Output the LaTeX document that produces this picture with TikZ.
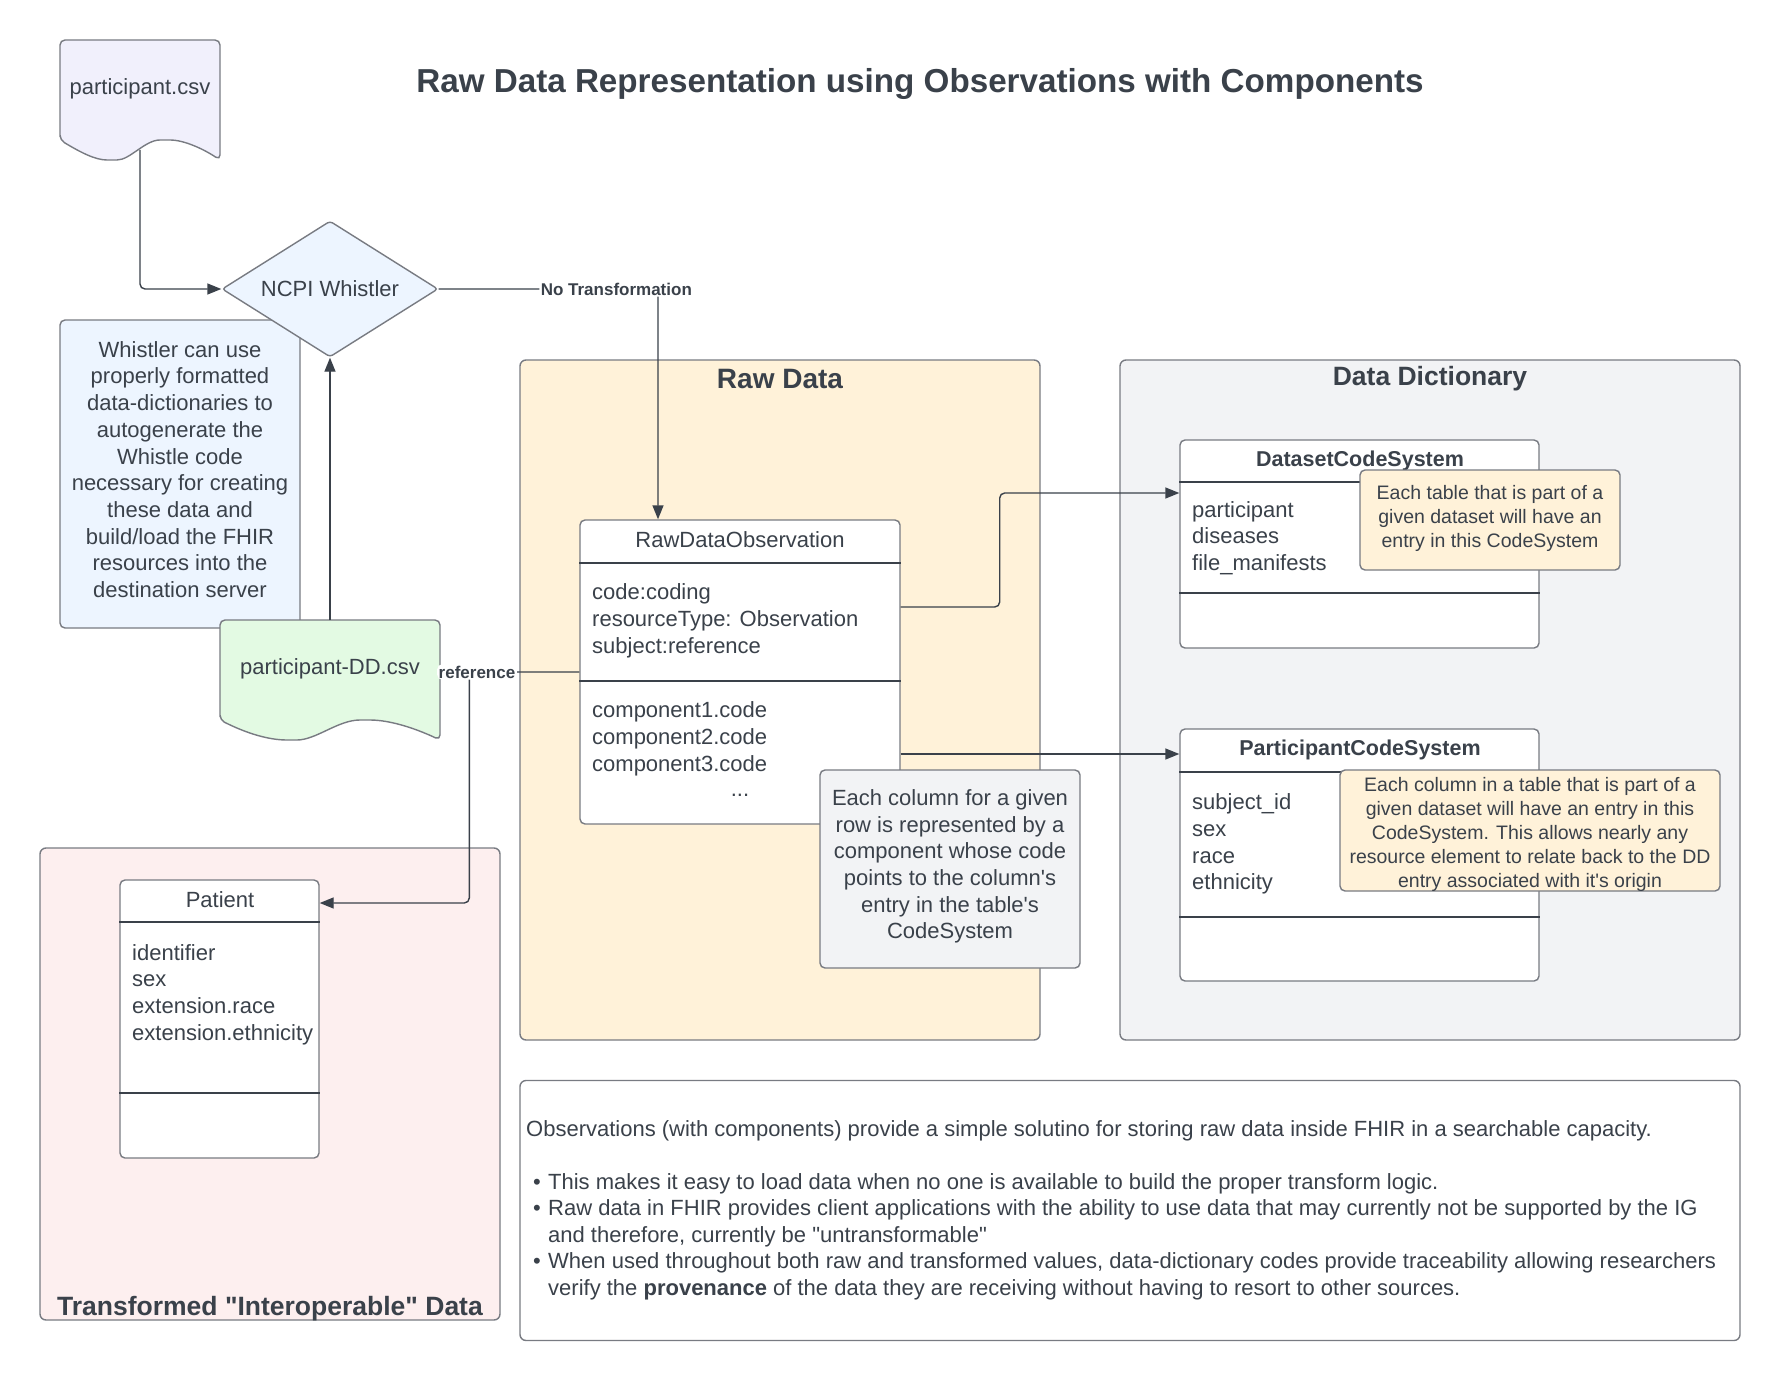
\documentclass[tikz,border=0pt]{standalone}
\usepackage{fontspec}
\setmainfont{Liberation Sans}
\newfontfamily\plainsans{Liberation Sans}
\usetikzlibrary{shapes.geometric,arrows.meta}
\definecolor{ink}{HTML}{3A414A}
\definecolor{edge}{HTML}{787B82}
\definecolor{lavender}{HTML}{F1F0FC}
\definecolor{paleblue}{HTML}{EDF5FF}
\definecolor{palegreen}{HTML}{E3FAE3}
\definecolor{paleyellow}{HTML}{FFF2D9}
\definecolor{palegray}{HTML}{F2F3F5}
\definecolor{palered}{HTML}{FDEFEF}

\begin{document}
\begin{tikzpicture}[x=1pt,y=-1pt,
  every node/.style={text=ink, inner sep=0pt},
  fnt/.style={font=\plainsans\fontsize{22}{26.7}\selectfont},
  boldfnt/.style={font=\plainsans\fontsize{21.5}{26}\selectfont\bfseries},
  notefnt/.style={font=\plainsans\fontsize{19.5}{24}\selectfont},
  sumfnt/.style={font=\plainsans\fontsize{22}{26.5}\selectfont},
  headfnt/.style={font=\plainsans\fontsize{26.5}{30}\selectfont\bfseries},
  box/.style={draw=edge, line width=1.4pt, rounded corners=5pt},
  frame/.style={draw=edge, line width=1.4pt, rounded corners=6pt},
  rule/.style={draw=ink, line width=1.4pt},
  conn/.style={draw=ink, line width=1.4pt, rounded corners=5pt, -{Triangle[length=14pt,width=11pt]}},
  lbl/.style={font=\plainsans\fontsize{17}{20}\selectfont\bfseries, fill=white, inner sep=1.5pt},
]
\path[use as bounding box, fill=white] (0,0) rectangle (1780,1380);

\node[font=\plainsans\fontsize{33.2}{38}\selectfont\bfseries] (title) at (920,84) {Raw Data Representation using Observations with Components};

\node[frame, fill=paleyellow, minimum width=520pt, minimum height=680pt] (rawframe) at (780,700) {};
\node[frame, fill=palegray, minimum width=620pt, minimum height=680pt] (ddframe) at (1430,700) {};
\node[frame, fill=palered, minimum width=460pt, minimum height=472pt] (tfframe) at (270,1084) {};
\node[frame, fill=white, minimum width=1220pt, minimum height=260pt] (sumframe) at (1130,1210.5) {};
\node[font=\plainsans\fontsize{28}{32}\selectfont\bfseries] (rawtitle) at (780,379) {Raw Data};
\node[headfnt] (ddtitle) at (1430,379) {Data Dictionary};
\node[headfnt] (tftitle) at (270,1309) {Transformed "Interoperable" Data};

\node[box, fill=paleblue, minimum width=240pt, minimum height=308pt] (whistlenote) at (180,474) {};
\node[fnt, align=center] (whistletext) at (180,469.5) {Whistler can use\\properly formatted\\data-dictionaries to\\autogenerate the\\Whistle code\\necessary for creating\\these data and\\build/load the FHIR\\resources into the\\destination server};

\draw[box, fill=lavender] (60,140) -- (60,40) -- (220,40) -- (220,160) .. controls (205,150) and (185,140) .. (165,140) .. controls (145,140) and (130,160) .. (112,160) .. controls (95,160) and (80,152) .. (60,140) -- cycle;
\node[fnt] (pcsv) at (140,89) {participant.csv};
\coordinate (pcsvout) at (140,150);

\draw[box, fill=palegreen] (220,720) -- (220,620) -- (440,620) -- (440,740) .. controls (419,730) and (392,720) .. (365,720) .. controls (338,720) and (316,740) .. (292,740) .. controls (268,740) and (246,733) .. (220,720) -- cycle;
\node[fnt] (ddcsv) at (330,669) {participant-DD.csv};
\coordinate (ddcsvtop) at (330,620);

\node[diamond, aspect=1.588, draw=edge, fill=paleblue, line width=1.4pt, rounded corners=3pt, minimum width=216pt, minimum height=136pt, fnt] (ncpi) at (330,289) {NCPI Whistler};

\node[box, fill=white, minimum width=320pt, minimum height=304pt] (rdo) at (740,672) {};
\draw[rule] (rdo.west |- 0,563) -- (rdo.east |- 0,563);
\draw[rule] (rdo.west |- 0,681) -- (rdo.east |- 0,681);
\node[fnt] (rdohead) at (740,540) {RawDataObservation};
\node[fnt, anchor=west, align=left] (rdoattr) at (592,621) {code:coding\\resourceType: Observation\\subject:reference};
\node[fnt, anchor=west, align=left] (rdocomp) at (592,739) {component1.code\\component2.code\\component3.code};
\node[fnt, anchor=base] (rdomore) at (740,796) {...};

\node[box, fill=white, minimum width=359pt, minimum height=208pt] (dcs) at (1359.5,544) {};
\draw[rule] (dcs.west |- 0,482) -- (dcs.east |- 0,482);
\draw[rule] (dcs.west |- 0,593) -- (dcs.east |- 0,593);
\node[boldfnt] (dcshead) at (1360,461) {DatasetCodeSystem};
\node[fnt, anchor=west, align=left] (dcsattr) at (1192,538) {participant\\diseases\\file\_manifests};

\node[box, fill=white, minimum width=359pt, minimum height=252pt] (pcs) at (1359.5,855) {};
\draw[rule] (pcs.west |- 0,772) -- (pcs.east |- 0,772);
\draw[rule] (pcs.west |- 0,917) -- (pcs.east |- 0,917);
\node[boldfnt] (pcshead) at (1360,750) {ParticipantCodeSystem};
\node[fnt, anchor=west, align=left] (pcsattr) at (1192,844) {subject\_id\\sex\\race\\ethnicity};

\node[box, fill=white, minimum width=199pt, minimum height=278pt] (pat) at (219.5,1019) {};
\draw[rule] (pat.west |- 0,922) -- (pat.east |- 0,922);
\draw[rule] (pat.west |- 0,1093) -- (pat.east |- 0,1093);
\node[fnt] (pathead) at (220,900) {Patient};
\node[fnt, anchor=west, align=left] (patattr) at (132,994.5) {identifier\\sex\\extension.race\\extension.ethnicity};

\draw[conn] (pcsvout) |- (ncpi.west);
\draw[conn] (ddcsvtop) -- (ncpi.south);
\draw[conn] (ncpi.east) -| ([xshift=-82pt]rdo.north) node[lbl, pos=0.405] (notrans) {No Transformation};
\draw[conn] (rdo.west) -- ++(-110,0) node[lbl, pos=0.93] (refl) {reference} |- ([yshift=116pt]pat.east);
\draw[conn] ([yshift=65pt]rdo.east) -- ++(99,0) |- ([yshift=51pt]dcs.west);
\draw[conn] ([yshift=-82pt]rdo.east) -- ([yshift=101pt]pcs.west);

\node[box, fill=palegray, minimum width=260pt, minimum height=198pt] (colnote) at (950,869) {};
\node[fnt, align=center] (coltext) at (950,866.5) {Each column for a given\\row is represented by a\\component whose code\\points to the column's\\entry in the table's\\CodeSystem};
\node[box, fill=paleyellow, minimum width=260pt, minimum height=100pt] (dcsnote) at (1490,520) {};
\node[notefnt, align=center] (dcstext) at (1490,518.5) {Each table that is part of a\\given dataset will have an\\entry in this CodeSystem};
\node[box, fill=paleyellow, minimum width=380pt, minimum height=121pt] (pcsnote) at (1530,830.5) {};
\node[notefnt, align=center] (pcstext) at (1530,834) {Each column in a table that is part of a\\given dataset will have an entry in this\\CodeSystem. This allows nearly any\\resource element to relate back to the DD\\entry associated with it's origin};

\node[sumfnt, anchor=west, align=left] (summary) at (526,1210) {Observations (with components) provide a simple solutino for storing raw data inside FHIR in a searchable capacity.\\[26.5pt]
\makebox[22pt][l]{\hspace*{7pt}•}This makes it easy to load data when no one is available to build the proper transform logic.\\
\makebox[22pt][l]{\hspace*{7pt}•}Raw data in FHIR provides client applications with the ability to use data that may currently not be supported by the IG\\
\hspace*{22pt}and therefore, currently be "untransformable"\\
\makebox[22pt][l]{\hspace*{7pt}•}When used throughout both raw and transformed values, data-dictionary codes provide traceability allowing researchers\\
\hspace*{22pt}verify the \textbf{provenance} of the data they are receiving without having to resort to other sources.};
\end{tikzpicture}
\end{document}
